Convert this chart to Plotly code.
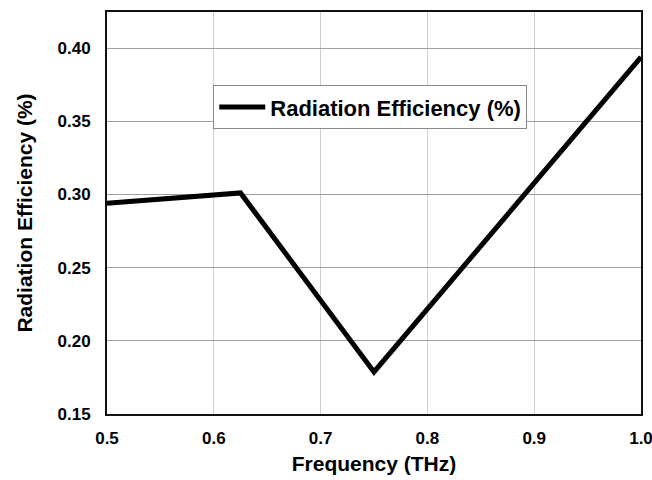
import plotly.graph_objects as go

freq = [0.5, 0.625, 0.75, 1.0]
efficiency = [0.294, 0.301, 0.1787, 0.3938]
series_name = "Radiation Efficiency (%)"
x_ticks = [0.5, 0.6, 0.7, 0.8, 0.9, 1.0]
x_tick_labels = ["0.5", "0.6", "0.7", "0.8", "0.9", "1.0"]
y_ticks = [0.15, 0.20, 0.25, 0.30, 0.35, 0.40]
y_tick_labels = ["0.15", "0.20", "0.25", "0.30", "0.35", "0.40"]

font = "Liberation Sans, Arial, sans-serif"

fig = go.Figure()
fig.add_trace(go.Scatter(x=freq, y=efficiency, mode="lines", name=series_name,
                         line=dict(color="black", width=5), showlegend=True))

fig.update_layout(
    width=652, height=480,
    margin=dict(l=107, r=11, t=12, b=66, autoexpand=False),
    paper_bgcolor="white", plot_bgcolor="white",
    font=dict(family=font, color="black"),
    showlegend=True,
    legend=dict(x=0.199, y=0.818, xanchor="left", yanchor="top",
                bgcolor="white", bordercolor="#888888", borderwidth=1,
                font=dict(family=font, size=22, color="black", weight="bold"),
                itemwidth=46, tracegroupgap=0),
)
fig.update_xaxes(
    range=[0.5, 1.0], tickvals=x_ticks, ticktext=x_tick_labels,
    showgrid=True, gridcolor="#cfcfcf", gridwidth=1,
    showline=True, linecolor="#111111", linewidth=2, mirror=True,
    ticks="", zeroline=False, automargin=False, ticklabelstandoff=8,
    ticklabeloverflow="allow",
    tickfont=dict(family=font, size=17, color="black", weight="bold"),
    title=dict(text="Frequency (THz)", font=dict(family=font, size=21, color="black", weight="bold"), standoff=9),
)
fig.update_yaxes(
    range=[0.15, 0.4246], tickvals=y_ticks, ticktext=y_tick_labels,
    showgrid=True, gridcolor="#a0a0a0", gridwidth=1,
    showline=True, linecolor="#111111", linewidth=2, mirror=True,
    ticks="", zeroline=False, automargin=False, ticklabelstandoff=11,
    ticklabeloverflow="allow",
    tickfont=dict(family=font, size=17, color="black", weight="bold"),
    title=dict(text="Radiation Efficiency (%)", font=dict(family=font, size=21, color="black", weight="bold"), standoff=19),
)

fig.write_html("out.html")
